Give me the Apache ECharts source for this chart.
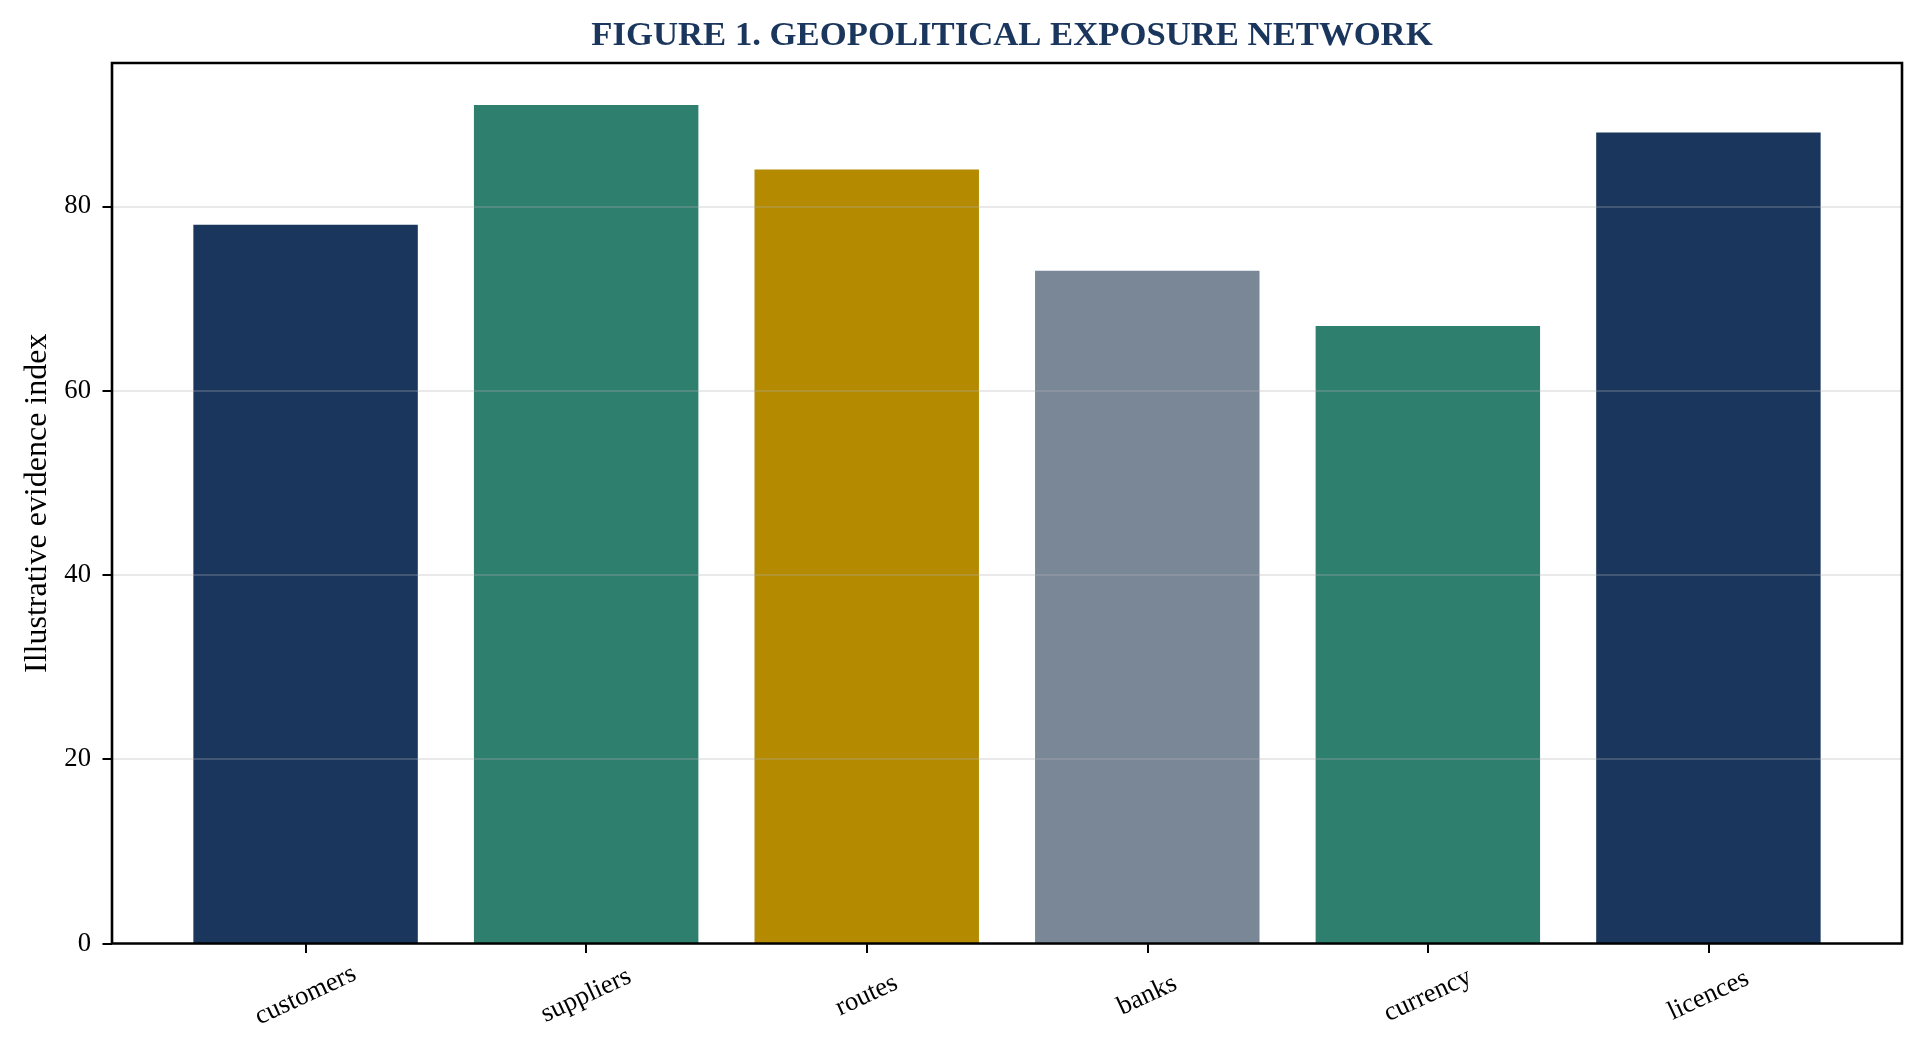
<!DOCTYPE html>
<html>
<head>
<meta charset="utf-8">
<title>Geopolitical exposure network</title>
<script src="https://cdn.jsdelivr.net/npm/echarts@6/dist/echarts.min.js"></script>
<style>
	html, body { margin: 0; padding: 0; background: #fff; }
	#chart { width: 1924px; height: 1053px; }
</style>
</head>
<body>
<div id="chart"></div>
<script>
// data
var categories = ['customers', 'suppliers', 'routes', 'banks', 'currency', 'licences'];
var scores = [78, 91, 84, 73, 67, 88];
var barColors = ['#1a365d', '#2e7f6e', '#b38a00', '#7a8797', '#2e7f6e', '#1a365d'];
var yTicks = [0, 20, 40, 60, 80];
var yMax = 95.55;

var font = "'Liberation Serif', 'Times New Roman', serif";

// plot frame (pixels)
var frameLeft = 112, frameRight = 22, frameTop = 63, frameBottom = 109.5;
// matplotlib leaves ~0.19 of a band outside the outer bars
var band = (1924 - frameLeft - frameRight) / 6.38;
var inset = band * 0.19;

var chart = echarts.init(document.getElementById('chart'), null, { renderer: 'canvas' });

var option = {
	backgroundColor: '#ffffff',
	animation: false,
	title: {
		text: 'FIGURE 1. GEOPOLITICAL EXPOSURE NETWORK',
		left: (frameLeft + (1924 - frameRight)) / 2,
		textAlign: 'center',
		top: 14,
		textStyle: {
			fontFamily: font,
			fontSize: 34.7,
			fontWeight: 'bold',
			color: '#1a365d'
		}
	},
	grid: [{
		// frame + y axis
		left: frameLeft,
		right: frameRight,
		top: frameTop,
		bottom: frameBottom,
		show: true,
		z: 10,
		backgroundColor: 'transparent',
		borderColor: '#000',
		borderWidth: 2.6,
		outerBoundsMode: 'none'
	}, {
		// bars
		left: frameLeft + inset,
		right: frameRight + inset,
		top: frameTop,
		bottom: frameBottom,
		outerBoundsMode: 'none'
	}],
	xAxis: [{
		gridIndex: 0,
		type: 'value',
		min: 0,
		max: 1,
		show: false
	}, {
		gridIndex: 1,
		type: 'category',
		data: categories,
		boundaryGap: true,
		axisLine: { show: false },
		axisTick: {
			show: true,
			alignWithLabel: true,
			length: 9.5,
			lineStyle: { color: '#000', width: 2 }
		},
		axisLabel: {
			interval: 0,
			rotate: 25,
			align: 'center',
			verticalAlign: 'middle',
			margin: 52,
			fontFamily: font,
			fontSize: 26.7,
			color: '#000'
		},
		splitLine: { show: false }
	}],
	yAxis: [{
		gridIndex: 0,
		type: 'value',
		min: 0,
		max: yMax,
		z: 5,
		name: 'Illustrative evidence index',
		nameLocation: 'middle',
		nameGap: 58,
		nameTextStyle: {
			fontFamily: font,
			fontSize: 32,
			color: '#000'
		},
		axisLine: { show: false },
		axisTick: {
			show: true,
			customValues: yTicks,
			length: 9.5,
			lineStyle: { color: '#000', width: 2 }
		},
		axisLabel: {
			customValues: yTicks,
			margin: 21,
			fontFamily: font,
			fontSize: 26.7,
			color: '#000'
		},
		splitLine: {
			show: true,
			lineStyle: { color: 'rgba(176,176,176,0.28)', width: 2 }
		}
	}, {
		gridIndex: 1,
		type: 'value',
		min: 0,
		max: yMax,
		show: false,
		splitLine: { show: false }
	}],
	series: [{
		type: 'bar',
		xAxisIndex: 1,
		yAxisIndex: 1,
		barWidth: '80%',
		data: scores.map(function (v, i) {
			return { value: v, itemStyle: { color: barColors[i] } };
		})
	}]
};

chart.setOption(option);
window.addEventListener('resize', function () {
	chart.resize();
});
</script>
</body>
</html>
